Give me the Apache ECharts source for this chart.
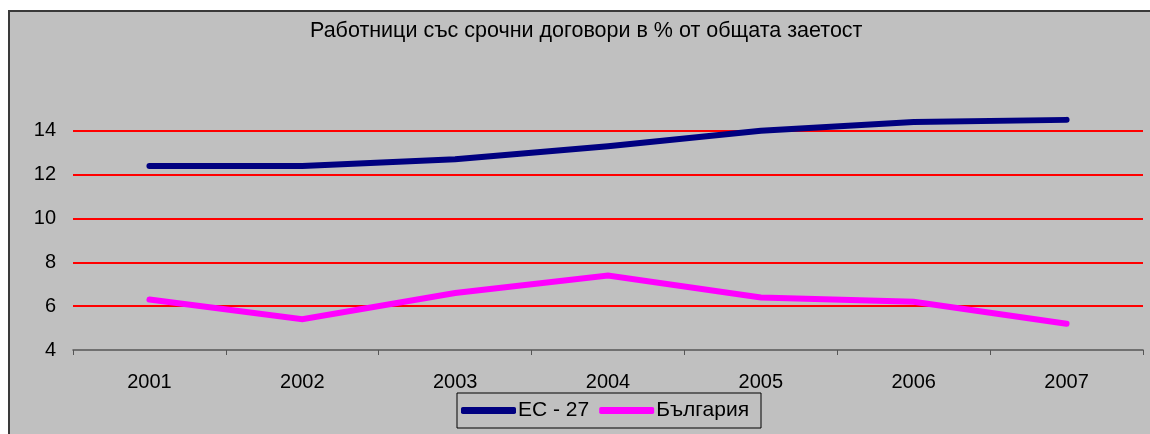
<!DOCTYPE html>
<html>
<head>
<meta charset="utf-8">
<script src="https://cdn.jsdelivr.net/npm/echarts@6/dist/echarts.min.js"></script>
<style>
  html, body { margin: 0; padding: 0; background: #ffffff; }
  #chart { width: 1150px; height: 434px; }
</style>
</head>
<body>
<div id="chart"></div>
<script>
// Temporary-contract workers as % of total employment
const titleText = 'Работници със срочни договори в % от общата заетост';
const years = ['2001', '2002', '2003', '2004', '2005', '2006', '2007'];
const seriesNames = ['ЕС - 27', 'България'];
const eu27 = [12.4, 12.4, 12.7, 13.3, 14.0, 14.4, 14.5];
const bulgaria = [6.3, 5.4, 6.6, 7.4, 6.4, 6.2, 5.2];
const seriesColors = ['#000080', '#FF00FF'];

const FONT = 'Liberation Sans, Arial, sans-serif';

const chart = echarts.init(document.getElementById('chart'), null, { renderer: 'canvas' });

chart.setOption({
  backgroundColor: '#ffffff',
  animation: false,
  graphic: [{
    type: 'rect',
    z: -10,
    silent: true,
    shape: { x: 9, y: 11, width: 1200, height: 500 },
    style: { fill: '#C0C0C0', stroke: '#3a3a3a', lineWidth: 2 }
  }],
  title: {
    text: titleText,
    left: 310,
    top: 20,
    padding: 0,
    textStyle: { fontFamily: FONT, fontSize: 21.5, fontWeight: 'normal', color: '#000000' }
  },
  legend: {
    data: seriesNames,
    left: 457,
    top: 393,
    padding: [7, 12, 7, 4],
    itemGap: 10,
    itemWidth: 55,
    itemHeight: 7,
    icon: 'roundRect',
    borderColor: '#000000',
    borderWidth: 1,
    backgroundColor: '#C0C0C0',
    textStyle: { fontFamily: FONT, fontSize: 21, color: '#000000', padding: [0, 0, 0, -3] }
  },
  grid: { left: 73, right: 7, top: 87, bottom: 84, containLabel: false },
  xAxis: {
    type: 'category',
    data: years,
    boundaryGap: true,
    axisLine: { show: true, lineStyle: { color: '#555555', width: 1.5 } },
    axisTick: { show: true, alignWithLabel: false, length: 5, lineStyle: { color: '#555555' } },
    axisLabel: { fontFamily: FONT, fontSize: 20, color: '#000000', margin: 22 },
    splitLine: { show: false },
    z: 5
  },
  yAxis: {
    type: 'value',
    min: 4,
    max: 16,
    interval: 2,
    axisLine: { show: false },
    axisTick: { show: false },
    axisLabel: {
      fontFamily: FONT, fontSize: 20, color: '#000000', margin: 17,
      formatter: v => (v >= 16 ? '' : String(v))
    },
    splitLine: {
      show: true,
      lineStyle: {
        color: ['rgba(0,0,0,0)', '#FF0000', '#FF0000', '#FF0000', '#FF0000', '#FF0000', 'rgba(0,0,0,0)'],
        width: 2
      }
    }
  },
  series: [
    {
      name: seriesNames[0],
      type: 'line',
      data: eu27,
      color: seriesColors[0],
      showSymbol: false,
      symbol: 'none',
      lineStyle: { width: 6, color: seriesColors[0], cap: 'round', join: 'round' },
      z: 3
    },
    {
      name: seriesNames[1],
      type: 'line',
      data: bulgaria,
      color: seriesColors[1],
      showSymbol: false,
      symbol: 'none',
      lineStyle: { width: 6, color: seriesColors[1], cap: 'round', join: 'miter' },
      z: 3
    }
  ]
});
</script>
</body>
</html>
